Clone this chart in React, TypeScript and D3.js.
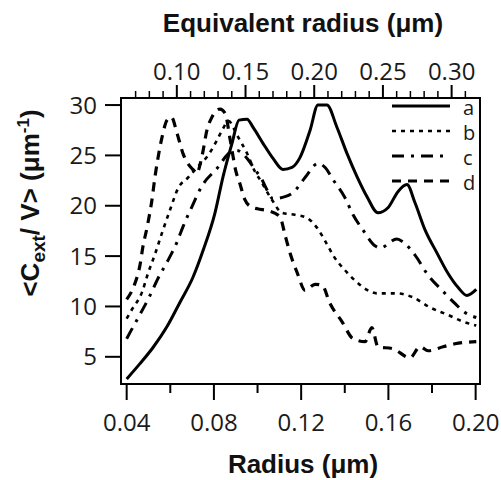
import React from 'react';
import * as d3 from 'd3';

// ---- data ----
const radiusA = [0.040, 0.046, 0.052, 0.0585, 0.0644, 0.0704, 0.0751, 0.0805, 0.0842, 0.0883, 0.0915, 0.0952, 0.0979, 0.1025, 0.1071, 0.1117, 0.1158, 0.1195, 0.1241, 0.1277, 0.1318, 0.1364, 0.1410, 0.1456, 0.1502, 0.1552, 0.1598, 0.1644, 0.1685, 0.1722, 0.1768, 0.1823, 0.1873, 0.1919, 0.1960, 0.2003];
const valuesA = [2.8, 4.3, 5.9, 8.0, 10.4, 12.9, 15.6, 19.3, 22.9, 26.2, 28.5, 28.6, 27.8, 26.2, 24.7, 23.6, 23.8, 24.8, 27.5, 30.0, 30.0, 27.8, 25.2, 22.9, 20.9, 19.3, 19.8, 21.4, 22.1, 20.3, 17.6, 15.3, 13.3, 11.9, 11.1, 11.7];

const radiusB = [0.040, 0.0424, 0.047, 0.0498, 0.053, 0.0562, 0.0599, 0.0635, 0.0681, 0.0727, 0.0773, 0.0814, 0.0840, 0.0868, 0.0906, 0.0952, 0.0988, 0.1020, 0.1043, 0.1066, 0.1112, 0.1171, 0.1226, 0.1273, 0.1318, 0.1346, 0.1401, 0.1456, 0.1506, 0.1548, 0.1600, 0.1639, 0.1713, 0.1791, 0.1869, 0.1942, 0.2003];
const valuesB = [8.8, 9.7, 11.4, 13.3, 15.2, 17.3, 19.6, 21.7, 22.8, 23.9, 25.0, 26.5, 27.6, 28.4, 27.0, 25.2, 23.4, 22.3, 21.4, 20.6, 19.3, 19.1, 18.8, 17.8, 16.2, 15.1, 13.6, 12.4, 11.6, 11.3, 11.3, 11.3, 10.9, 9.9, 9.2, 8.5, 8.1];

const radiusC = [0.040, 0.0415, 0.0461, 0.0507, 0.0544, 0.0590, 0.0631, 0.0658, 0.0699, 0.0746, 0.0814, 0.0874, 0.0905, 0.0956, 0.0988, 0.1020, 0.1043, 0.1071, 0.1126, 0.1163, 0.1218, 0.1277, 0.1310, 0.1346, 0.1401, 0.1438, 0.1483, 0.1540, 0.1562, 0.1639, 0.1667, 0.1722, 0.1782, 0.1846, 0.1905, 0.1951, 0.2003];
const valuesC = [6.8, 7.4, 9.2, 11.1, 12.8, 14.6, 16.4, 17.9, 19.9, 22.0, 23.7, 25.3, 25.5, 24.6, 23.6, 22.6, 21.6, 20.7, 20.9, 21.3, 22.8, 24.2, 23.8, 22.6, 20.8, 19.1, 17.6, 16.0, 15.8, 16.7, 16.4, 15.1, 13.1, 11.6, 10.3, 9.4, 8.9];

const radiusD = [0.040, 0.0438, 0.0461, 0.0475, 0.0493, 0.0516, 0.0530, 0.0544, 0.0562, 0.0585, 0.0605, 0.0631, 0.0658, 0.0699, 0.0722, 0.0746, 0.0768, 0.0791, 0.0828, 0.0851, 0.0875, 0.0900, 0.0919, 0.0942, 0.0970, 0.1000, 0.1050, 0.1103, 0.1126, 0.1149, 0.1181, 0.1218, 0.1264, 0.1296, 0.1332, 0.1387, 0.1438, 0.1493, 0.1524, 0.1552, 0.1621, 0.1699, 0.1745, 0.1782, 0.1851, 0.1905, 0.2003];
const valuesD = [10.7, 12.3, 14.1, 16.0, 17.8, 20.6, 22.9, 24.8, 26.8, 28.5, 28.8, 27.2, 25.2, 23.7, 23.3, 25.0, 27.5, 28.8, 29.6, 29.2, 26.5, 23.5, 22.2, 20.6, 19.9, 19.7, 19.5, 18.9, 17.1, 15.3, 13.4, 11.6, 12.2, 12.1, 10.3, 8.5, 6.8, 6.5, 7.9, 6.0, 5.8, 4.9, 6.0, 5.6, 6.0, 6.3, 6.5];

const seriesNames = ['a', 'b', 'c', 'd'];
const bottomTicks = [0.04, 0.08, 0.12, 0.16, 0.20];
const bottomMinorTicks = [0.06, 0.10, 0.14, 0.18];
const leftTicks = [5, 10, 15, 20, 25, 30];
const topTicks = [0.10, 0.15, 0.20, 0.25, 0.30];
const topMinorTicks = [0.07, 0.08, 0.09, 0.11, 0.12, 0.13, 0.14, 0.16, 0.17, 0.18, 0.19, 0.21, 0.22, 0.23, 0.24, 0.26, 0.27, 0.28, 0.29, 0.31];
const EQ_FACTOR = Math.cbrt(4); // equivalent radius = radius * 4^(1/3)

// ---- layout ----
const W = 501, H = 480;
const frame = { left: 121, right: 480, top: 98, bottom: 384 };
const xDomain = [0.0374, 0.2020];
const yDomain = [2.3, 30.7];

const styles = [
  { dash: null, width: 3 },
  { dash: '4,5', width: 2.6 },
  { dash: '12,7,3,7', width: 3 },
  { dash: '9,7', width: 3.2 },
];

export default function App() {
  const x = d3.scaleLinear().domain(xDomain).range([frame.left, frame.right]);
  const xTop = d3.scaleLinear().domain(xDomain.map(d => d * EQ_FACTOR)).range([frame.left, frame.right]);
  const y = d3.scaleLinear().domain(yDomain).range([frame.bottom, frame.top]);
  const fmt = d3.format('.2f');

  const series = [
    [radiusA, valuesA],
    [radiusB, valuesB],
    [radiusC, valuesC],
    [radiusD, valuesD],
  ];
  const line = d3.line<[number, number]>()
    .x(d => x(d[0]))
    .y(d => y(d[1]))
    .curve(d3.curveMonotoneX);

  const tickFont = "'Open Sans', 'DejaVu Sans', sans-serif";
  const titleFont = "'Liberation Sans', Arial, sans-serif";
  const legendRowsY = [106, 131, 156, 181];

  return (
    <svg width={W} height={H} style={{ position: 'absolute', left: 0, top: 0, background: '#fff' }}>
      <defs>
        <clipPath id="plotclip">
          <rect x={frame.left} y={frame.top} width={frame.right - frame.left} height={frame.bottom - frame.top} />
        </clipPath>
      </defs>
      <rect x={0} y={0} width={W} height={H} fill="#fff" />

      {/* curves */}
      <g clipPath="url(#plotclip)">
        {series.map(([rs, vs], i) => (
          <path key={i}
            d={line(rs.map((r, j) => [r, vs[j]] as [number, number])) || ''}
            fill="none" stroke="#000" strokeWidth={styles[i].width}
            strokeDasharray={styles[i].dash || undefined}
            strokeLinejoin="round" strokeLinecap="butt" />
        ))}
      </g>

      {/* frame */}
      <rect x={frame.left} y={frame.top} width={frame.right - frame.left} height={frame.bottom - frame.top}
        fill="none" stroke="#000" strokeWidth={2} />

      {/* left axis */}
      {leftTicks.map(t => (
        <g key={'l' + t}>
          <line x1={frame.left - 16} x2={frame.left} y1={y(t)} y2={y(t)} stroke="#000" strokeWidth={2} />
          <text x={frame.left - 24} y={y(t) + 8.5} textAnchor="end" fontFamily={tickFont} fontSize={24} fill="#1a1a1a">{t}</text>
        </g>
      ))}

      {/* bottom axis */}
      {bottomTicks.map(t => (
        <g key={'b' + t}>
          <line x1={x(t)} x2={x(t)} y1={frame.bottom} y2={frame.bottom + 16} stroke="#000" strokeWidth={2} />
          <text x={x(t)} y={431} textAnchor="middle" fontFamily={tickFont} fontSize={24} fill="#1a1a1a">{fmt(t)}</text>
        </g>
      ))}
      {bottomMinorTicks.map(t => (
        <line key={'bm' + t} x1={x(t)} x2={x(t)} y1={frame.bottom} y2={frame.bottom + 9} stroke="#000" strokeWidth={2} />
      ))}

      {/* top axis (equivalent radius) */}
      {topTicks.map(t => (
        <g key={'t' + t}>
          <line x1={xTop(t)} x2={xTop(t)} y1={frame.top} y2={frame.top - 13} stroke="#000" strokeWidth={2} />
          <text x={xTop(t)} y={80} textAnchor="middle" fontFamily={tickFont} fontSize={24} fill="#1a1a1a">{fmt(t)}</text>
        </g>
      ))}
      {topMinorTicks.map(t => (
        <line key={'tm' + t} x1={xTop(t)} x2={xTop(t)} y1={frame.top} y2={frame.top - 7} stroke="#000" strokeWidth={1.5} />
      ))}

      {/* titles */}
      <text x={303} y={32} textAnchor="middle" fontFamily={titleFont} fontWeight="bold" fontSize={26} fill="#111">Equivalent radius (μm)</text>
      <text x={303} y={473} textAnchor="middle" fontFamily={titleFont} fontWeight="bold" fontSize={26} fill="#111">Radius (μm)</text>
      <text transform="translate(39,203) rotate(-90)" textAnchor="middle" fontFamily={titleFont} fontWeight="bold" fontSize={26} fill="#111">
        {'<C'}<tspan fontSize={19} dy={6}>ext</tspan><tspan dy={-6}>{'/ V> (μm'}</tspan><tspan fontSize={17} dy={-10}>-1</tspan><tspan dy={10}>)</tspan>
      </text>

      {/* legend */}
      {seriesNames.map((name, i) => (
        <g key={'lg' + name}>
          <line x1={392} x2={450} y1={legendRowsY[i]} y2={legendRowsY[i]} stroke="#000" strokeWidth={styles[i].width}
            strokeDasharray={styles[i].dash || undefined} />
          <text x={463} y={legendRowsY[i] + 9} fontFamily={tickFont} fontSize={20} fill="#1a1a1a">{name}</text>
        </g>
      ))}
    </svg>
  );
}
